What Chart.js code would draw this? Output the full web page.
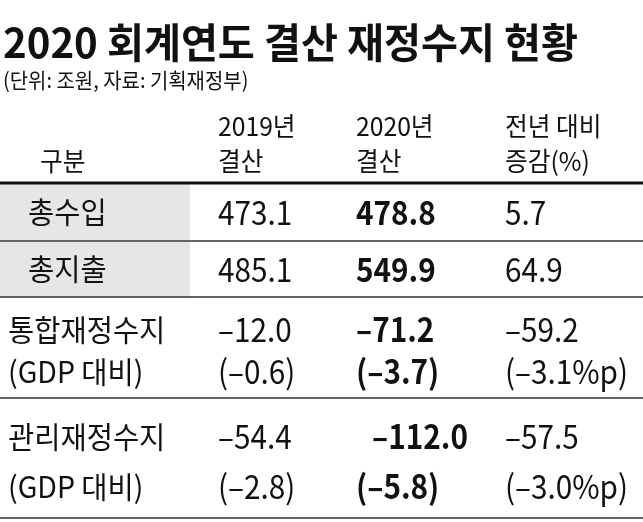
<!DOCTYPE html>
<html><head><meta charset="utf-8">
<script src="https://cdn.jsdelivr.net/npm/chart.js@4"></script>
<style>html,body{margin:0;padding:0;background:#fff}#wrap{width:643px;height:522px}</style>
</head><body><div id="wrap"><canvas id="c"></canvas></div>
<script>
const title = '2020 회계연도 결산 재정수지 현황';
const subtitle = '(단위: 조원, 자료: 기획재정부)';
const headers = [['', '구분'], ['2019년', '결산'], ['2020년', '결산'], ['전년 대비', '증감(%)']];
const categories = [['총수입'], ['총지출'], ['통합재정수지', '(GDP 대비)'], ['관리재정수지', '(GDP 대비)']];
const values2019 = [['473.1'], ['485.1'], ['–12.0', '(–0.6)'], ['–54.4', '(–2.8)']];
const values2020 = [['478.8'], ['549.9'], ['–71.2', '(–3.7)'], ['–112.0', '(–5.8)']];
const changes = [['5.7'], ['64.9'], ['–59.2', '(–3.1%p)'], ['–57.5', '(–3.0%p)']];
const rowBounds = [[183, 241], [241, 297], [297, 398], [398, 518]];
const colX = [10, 218, 356, 505];
const shaded = [true, true, false, false];

const FONT = '"Noto Sans CJK KR", "Noto Sans", sans-serif';

function text(ctx, s, x, y, font, sx) {
    ctx.save();
    ctx.font = font;
    ctx.translate(x, y);
    ctx.scale(sx, 1);
    ctx.fillText(s, 0, 0);
    ctx.restore();
}

const tablePlugin = {
    id: 'table',
    afterDraw(chart) {
        const ctx = chart.ctx;
        const xs = chart.scales.x, ys = chart.scales.y;
        const X = (v) => xs.getPixelForValue(v);
        const Y = (v) => ys.getPixelForValue(v);
        ctx.save();
        ctx.textBaseline = 'middle';
        ctx.fillStyle = '#111';
        text(ctx, title, X(3), Y(42), 'bold 41px ' + FONT, 0.98);
        text(ctx, subtitle, X(3), Y(80), '21px ' + FONT, 0.95);

        headers.forEach((h, i) => {
            const x = i === 0 ? X(40) : X(colX[i]);
            if (h[0]) text(ctx, h[0], x, Y(126), '26px ' + FONT, 0.95);
            text(ctx, h[1], x, Y(161), '26px ' + FONT, 0.95);
        });

        rowBounds.forEach(([top, bottom], r) => {
            if (shaded[r]) {
                ctx.fillStyle = '#e6e6e6';
                ctx.fillRect(X(0), Y(top) + 1, X(190) - X(0), Y(bottom) - Y(top) - 1);
            }
            const lines = categories[r].length;
            const ypos = lines === 1 ? [(top + bottom) / 2] :
                [top + (bottom - top) * 0.32, top + (bottom - top) * 0.74];
            ctx.fillStyle = '#111';
            ypos.forEach((yy, k) => {
                text(ctx, categories[r][k], X(r < 2 ? 28 : 8), Y(yy), '30px ' + FONT, 0.95);
                text(ctx, values2019[r][k], X(colX[1]), Y(yy), '33px ' + FONT, 0.9);
                text(ctx, values2020[r][k], X(r === 3 && k === 0 ? 372 : colX[2]), Y(yy), 'bold 33px ' + FONT, 0.9);
                text(ctx, changes[r][k], X(colX[3]), Y(yy), '33px ' + FONT, 0.9);
            });
            ctx.strokeStyle = '#333';
            ctx.lineWidth = 1.5;
            ctx.beginPath();
            ctx.moveTo(X(0), Y(bottom));
            ctx.lineTo(X(643), Y(bottom));
            ctx.stroke();
        });
        ctx.strokeStyle = '#111';
        ctx.lineWidth = 3;
        ctx.beginPath();
        ctx.moveTo(X(0), Y(183));
        ctx.lineTo(X(643), Y(183));
        ctx.stroke();
        ctx.restore();
    }
};

new Chart(document.getElementById('c'), {
    type: 'scatter',
    data: { datasets: [{ data: [], pointRadius: 0 }] },
    options: {
        responsive: true,
        maintainAspectRatio: false,
        animation: false,
        layout: { padding: 0 },
        plugins: { legend: { display: false }, tooltip: { enabled: false } },
        scales: {
            x: { type: 'linear', min: 0, max: 643, display: false },
            y: { type: 'linear', min: 0, max: 522, reverse: true, display: false }
        }
    },
    plugins: [tablePlugin]
});
</script></body></html>
